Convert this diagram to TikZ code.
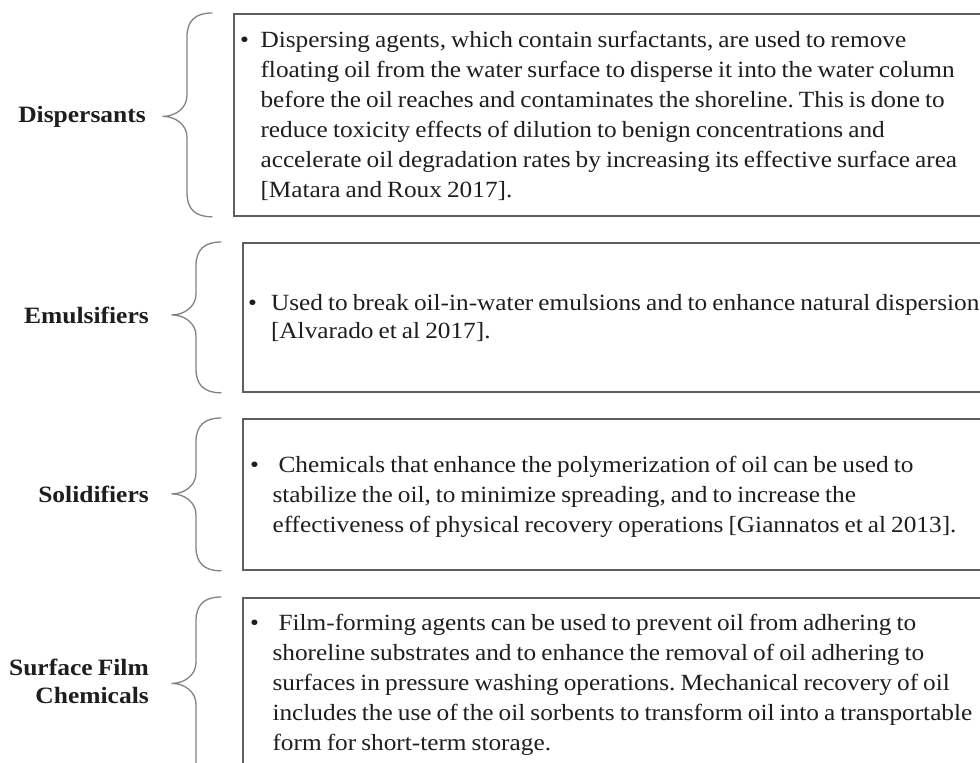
\documentclass[tikz,border=0pt]{standalone}
\usepackage{fontspec}
\setmainfont{Liberation Serif}[FakeStretch=1.09, WordSpace=0.8]
\usetikzlibrary{calc}
\definecolor{txt}{RGB}{30,30,30}
\definecolor{boxline}{RGB}{95,95,95}
\definecolor{braceline}{RGB}{130,130,130}
\tikzset{
  boxframe/.style={draw=boxline, line width=1.8pt, rectangle, inner sep=0pt, anchor=north west},
  bodytext/.style={inner sep=0pt, anchor=base west, text=txt, font=\fontsize{23.2}{30}\selectfont},
  lbl/.style={inner sep=0pt, anchor=base east, text=txt, font=\fontsize{23.4}{28}\selectfont\bfseries},
  bracestyle/.style={draw=braceline, line width=1.3pt, line cap=round, line join=round}
}
\newcommand\bracelink[2]{%
  \draw[bracestyle] let \p1=(#1.north west), \p2=(#1.south west), \p3=(#2.east) in
    (\x1-21pt,\y1) .. controls (\x1-38pt,\y1) and (\x1-46pt,\y1-8pt) .. (\x1-46pt,\y1-24pt)
    -- (\x1-46pt,\y3+21pt) .. controls (\x1-46pt,\y3+8pt) and (\x1-58pt,\y3) .. (\x1-70pt,\y3)
    .. controls (\x1-58pt,\y3) and (\x1-46pt,\y3-8pt) .. (\x1-46pt,\y3-21pt)
    -- (\x1-46pt,\y2+24pt) .. controls (\x1-46pt,\y2+8pt) and (\x1-38pt,\y2) .. (\x1-21pt,\y2);
}
\frenchspacing
\begin{document}
\begin{tikzpicture}[x=1pt,y=-1pt]
\useasboundingbox (0,0) rectangle (980,763);
\fill[white] (0,0) rectangle (980,763);
\clip (0,0) rectangle (980,763);

% boxes
\node[boxframe, minimum width=760pt, minimum height=202pt] (b1) at (233,13) {};
\node[boxframe, minimum width=750pt, minimum height=149pt] (b2) at (242,242) {};
\node[boxframe, minimum width=750pt, minimum height=151pt] (b3) at (242,418) {};
\node[boxframe, minimum width=750pt, minimum height=190pt] (b4) at (242,597) {};

% texts
\node[bodytext] (t1) at (240,47) {\frenchspacing\begin{tabular}[t]{@{}l@{\hspace{11.5pt}}l@{}}
\textbullet & Dispersing agents, which contain surfactants, are used to remove\\
 & floating oil from the water surface to disperse it into the water column\\
 & before the oil reaches and contaminates the shoreline. This is done to\\
 & reduce toxicity effects of dilution to benign concentrations and\\
 & accelerate oil degradation rates by increasing its effective surface area\\
 & [Matara and Roux 2017].
\end{tabular}};

\node[bodytext, font=\fontsize{23.2}{28}\selectfont] (t2) at (248,310) {\frenchspacing\begin{tabular}[t]{@{}l@{\hspace{14pt}}l@{}}
\textbullet & Used to break oil-in-water emulsions and to enhance natural dispersion\\
 & [Alvarado et al 2017].
\end{tabular}};

\node[bodytext] (t3) at (250,472) {\frenchspacing\begin{tabular}[t]{@{}l@{\hspace{13.5pt}}l@{}}
\textbullet & \hspace{6pt}Chemicals that enhance the polymerization of oil can be used to\\
 & stabilize the oil, to minimize spreading, and to increase the\\
 & effectiveness of physical recovery operations [Giannatos et al 2013].
\end{tabular}};

\node[bodytext] (t4) at (250,630) {\frenchspacing\begin{tabular}[t]{@{}l@{\hspace{13.5pt}}l@{}}
\textbullet & \hspace{6pt}Film-forming agents can be used to prevent oil from adhering to\\
 & shoreline substrates and to enhance the removal of oil adhering to\\
 & surfaces in pressure washing operations. Mechanical recovery of oil\\
 & includes the use of the oil sorbents to transform oil into a transportable\\
 & form for short-term storage.
\end{tabular}};

% labels
\node[lbl] (l1) at (146,122) {Dispersants};
\node[lbl] (l2) at (149,323) {Emulsifiers};
\node[lbl] (l3) at (149,502) {Solidifiers};
\node[lbl] (l4) at (149,675) {\begin{tabular}[t]{@{}r@{}}Surface Film\\Chemicals\end{tabular}};

% braces
\bracelink{b1}{l1}
\bracelink{b2}{l2}
\bracelink{b3}{l3}
\bracelink{b4}{l4}
\end{tikzpicture}
\end{document}
